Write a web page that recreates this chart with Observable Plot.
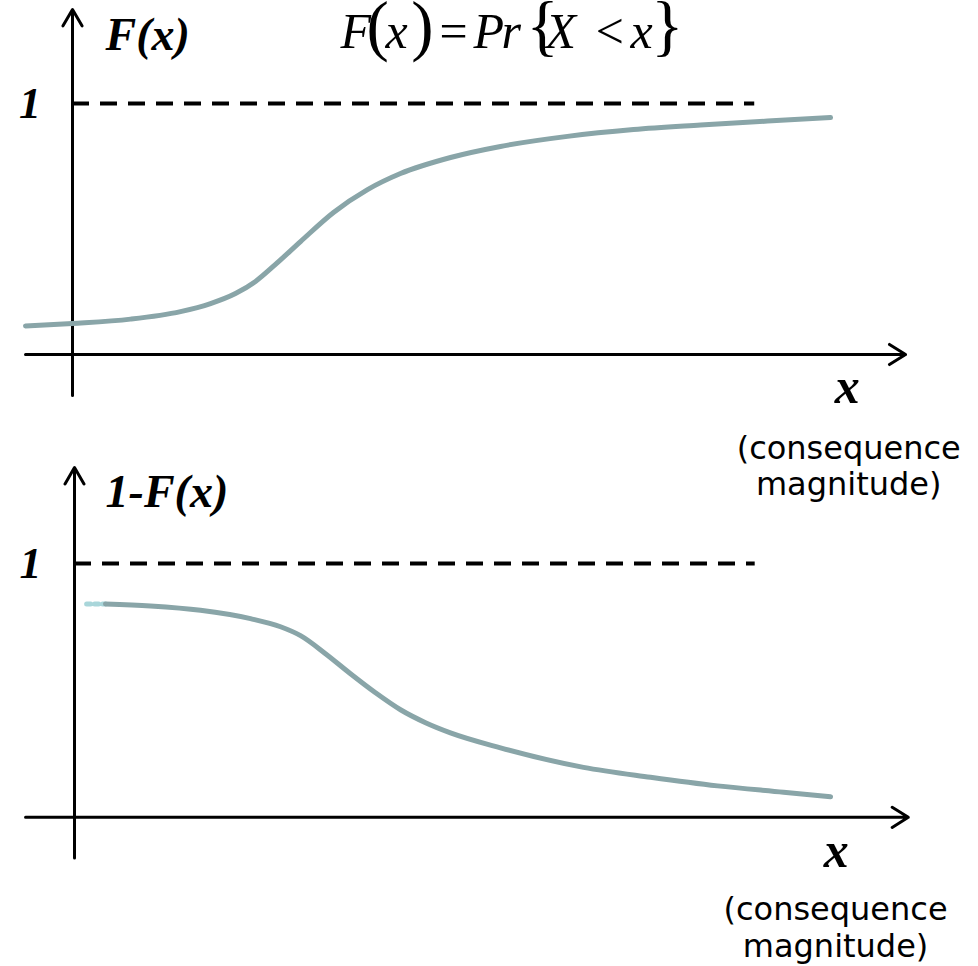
<!DOCTYPE html>
<html>
<head>
<meta charset="utf-8">
<script src="https://cdn.jsdelivr.net/npm/d3@7"></script>
<script src="https://cdn.jsdelivr.net/npm/@observablehq/plot@0.6"></script>
<style>
  html, body { margin: 0; padding: 0; background: #ffffff; }
  #chart { position: relative; width: 978px; height: 966px; background: #ffffff; }
  #chart svg { display: block; }
  #chart svg.panel-top { position: relative; z-index: 2; overflow: visible; background: transparent; }
  #chart svg.panel-bottom { position: relative; z-index: 1; background: #ffffff; }
</style>
</head>
<body>
<div id="chart"></div>
<script>
// ---------- data ----------
// Top panel: cumulative distribution F(x)
const topX = [-0.62, 0, 0.765, 1.425, 1.821, 2.150, 2.414, 2.678, 3.008, 3.443, 3.892, 4.327, 4.987, 5.646, 6.530, 7.401, 8.285, 9.169, 10.0];
const topF = [0.114, 0.124, 0.141, 0.171, 0.203, 0.243, 0.291, 0.359, 0.450, 0.566, 0.657, 0.721, 0.785, 0.829, 0.869, 0.896, 0.914, 0.930, 0.944];

// Bottom panel: exceedance 1 - F(x)
const botX = [0.409, 1.003, 1.662, 2.322, 2.718, 2.982, 3.311, 3.641, 3.971, 4.301, 4.631, 4.960, 5.620, 6.715, 7.599, 8.483, 9.354, 9.974];
const botS = [0.841, 0.833, 0.816, 0.783, 0.751, 0.716, 0.645, 0.566, 0.491, 0.424, 0.373, 0.333, 0.274, 0.197, 0.158, 0.124, 0.099, 0.081];
const botDotX = [0.16, 0.409];
const botDotS = [0.841, 0.841];

// Labels
const topYLabel = "F(x)";
const botYLabel = "1-F(x)";
const levelLabel = "1";
const xLabel = "x";
const xCaption = "(consequence\nmagnitude)";
const formulaNormal = ["F", "x", "=", "P", "r", "X", "<", "x"];
const formulaNormalAt = [3.536, 4.129, 4.80, 5.290, 5.66, 6.24, 6.86, 7.361];
const formulaBig = ["(", ")", "{", "}"];
const formulaBigAt = [3.88, 4.47, 5.99, 7.634];

// ---------- styles ----------
const curveColor = "#89a5a8";
const dotColor = "#a9d6da";
const serif = "'Liberation Serif', 'Times New Roman', serif";
const sans = "'DejaVu Sans', Verdana, sans-serif";

const topCurve = topX.map((x, i) => ({x, y: topF[i]}));
const botCurve = botX.map((x, i) => ({x, y: botS[i]}));
const botDots = botDotX.map((x, i) => ({x, y: botDotS[i]}));

function axes(xFrom, xTo, yFrom, yTo) {
  return [
    Plot.arrow([{x1: xFrom, y1: 0, x2: xTo, y2: 0}], {
      x1: "x1", y1: "y1", x2: "x2", y2: "y2",
      stroke: "black", strokeWidth: 3, headLength: 9.5, headAngle: 64
    }),
    Plot.arrow([{x1: 0, y1: yFrom, x2: 0, y2: yTo}], {
      x1: "x1", y1: "y1", x2: "x2", y2: "y2",
      stroke: "black", strokeWidth: 3, headLength: 9.5, headAngle: 60
    })
  ];
}

// ---------- top panel ----------
const topPanel = Plot.plot({
  width: 978, height: 460,
  marginTop: 0, marginRight: 0, marginBottom: 0, marginLeft: 0,
  className: "panel-top",
  style: {background: "transparent", overflow: "visible"},
  x: {domain: [-0.9499, 11.952], axis: null},
  y: {domain: [-0.4223, 1.4104], axis: null},
  marks: [
    ...axes(-0.62, 10.99, -0.163, 1.375),
    Plot.ruleY([{y: 1, x1: 0, x2: 9.0}], {y: "y", x1: "x1", x2: "x2", stroke: "black", strokeWidth: 4, strokeDasharray: "17,11"}),
    Plot.line(topCurve, {x: "x", y: "y", stroke: curveColor, strokeWidth: 5, curve: "monotone-x"}),
    Plot.text([levelLabel], {x: -0.56, y: 1, text: d => d, fontFamily: serif, fontWeight: "bold", fontStyle: "italic", fontSize: 44}),
    Plot.text([topYLabel], {x: 0.435, y: 1.272, text: d => d, textAnchor: "start", fontFamily: serif, fontWeight: "bold", fontStyle: "italic", fontSize: 46}),
    Plot.text(formulaNormal, {x: (d, i) => formulaNormalAt[i], y: 1.284, text: d => d, textAnchor: "start", fontFamily: serif, fontStyle: "italic", fontSize: 50}),
    Plot.text(formulaBig, {x: (d, i) => formulaBigAt[i], y: 1.305, text: d => d, textAnchor: "start", fontFamily: serif, fontSize: 67}),
    Plot.text([xLabel], {x: 10.22, y: -0.131, text: d => d, fontFamily: serif, fontWeight: "bold", fontStyle: "italic", fontSize: 50}),
    Plot.text([xCaption], {x: 10.24, y: -0.312, text: d => d, lineAnchor: "top", lineHeight: 1.14, fontFamily: sans, fontSize: 32})
  ]
});

// ---------- bottom panel ----------
const bottomPanel = Plot.plot({
  width: 978, height: 506,
  marginTop: 0, marginRight: 0, marginBottom: 0, marginLeft: 0,
  className: "panel-bottom",
  x: {domain: [-0.9763, 11.926], axis: null},
  y: {domain: [-0.5878, 1.4063], axis: null},
  marks: [
    ...axes(-0.646, 11.0, -0.16, 1.379),
    Plot.ruleY([{y: 1, x1: 0, x2: 8.98}], {y: "y", x1: "x1", x2: "x2", stroke: "black", strokeWidth: 4, strokeDasharray: "17,11"}),
    Plot.line(botDots, {x: "x", y: "y", stroke: dotColor, strokeWidth: 5, strokeDasharray: "4,4"}),
    Plot.line(botCurve, {x: "x", y: "y", stroke: curveColor, strokeWidth: 5, curve: "monotone-x"}),
    Plot.text([levelLabel], {x: -0.58, y: 1, text: d => d, fontFamily: serif, fontWeight: "bold", fontStyle: "italic", fontSize: 44}),
    Plot.text([botYLabel], {x: 0.41, y: 1.28, text: d => d, textAnchor: "start", fontFamily: serif, fontWeight: "bold", fontStyle: "italic", fontSize: 46}),
    Plot.text([xLabel], {x: 10.05, y: -0.132, text: d => d, fontFamily: serif, fontWeight: "bold", fontStyle: "italic", fontSize: 50}),
    Plot.text([xCaption], {x: 10.04, y: -0.299, text: d => d, lineAnchor: "top", lineHeight: 1.16, fontFamily: sans, fontSize: 32})
  ]
});

const root = document.getElementById("chart");
root.appendChild(topPanel);
root.appendChild(bottomPanel);
</script>
</body>
</html>
